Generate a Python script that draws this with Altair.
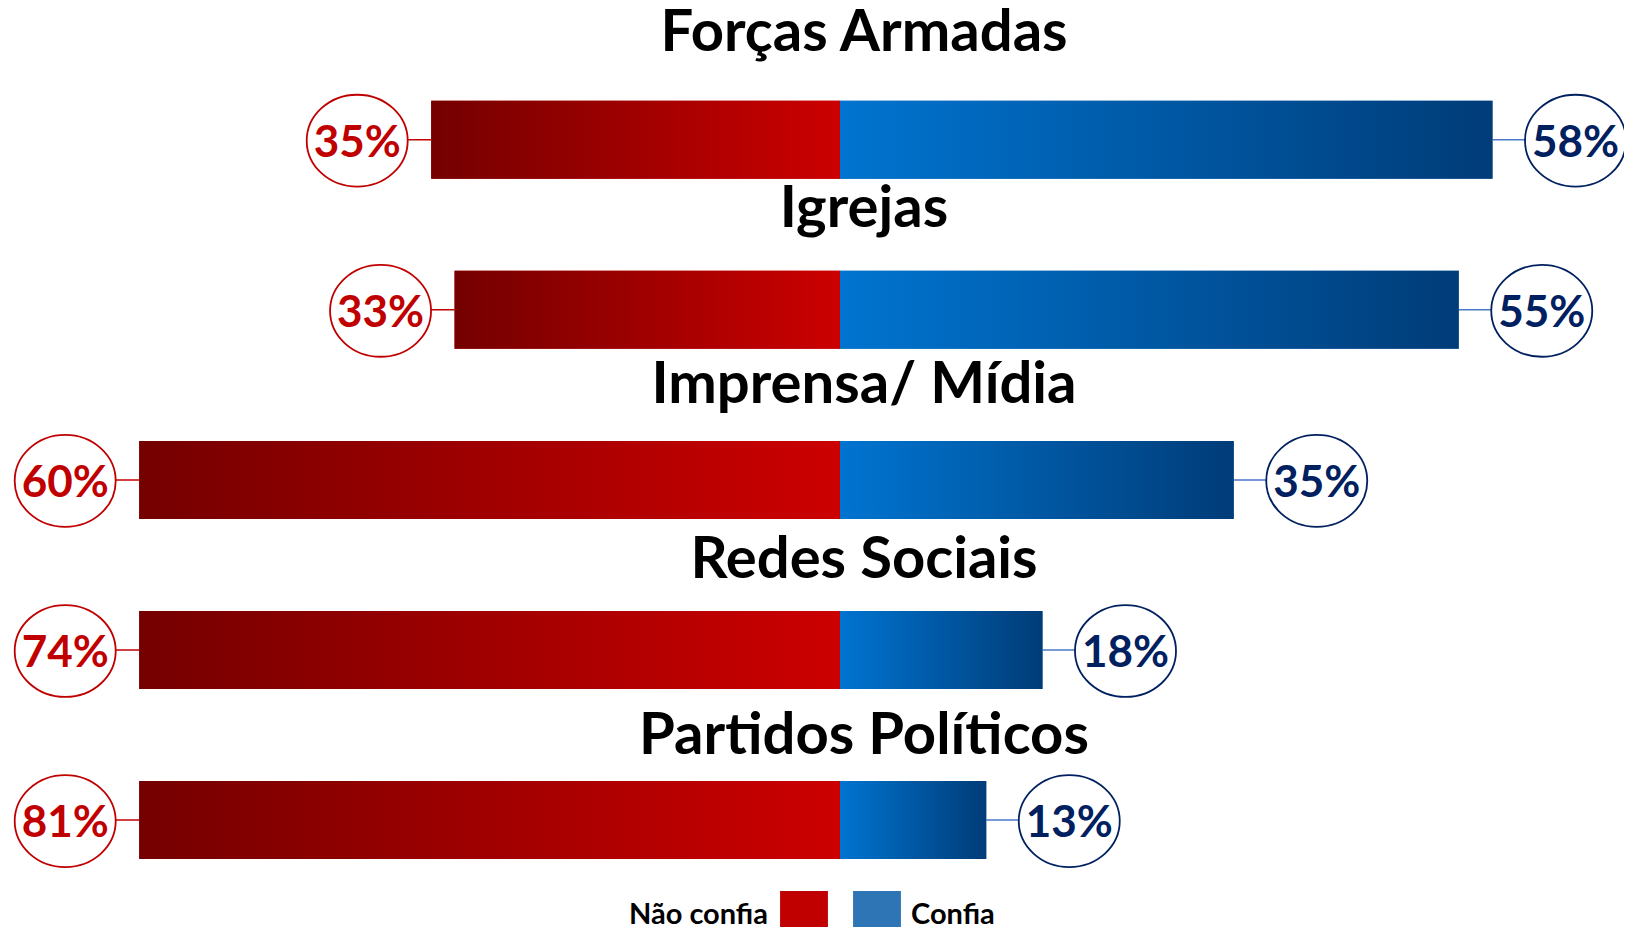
import altair as alt
import pandas as pd

# ---- data ----
categories = ["Forças Armadas", "Igrejas", "Imprensa/ Mídia", "Redes Sociais", "Partidos Políticos"]
nao_confia = [35, 33, 60, 74, 81]
confia = [58, 55, 35, 18, 13]
legend_labels = ["Não confia", "Confia"]

df = pd.DataFrame({"cat": categories, "nao": nao_confia, "sim": confia})
df["nao_neg"] = -df["nao"]
df["zero"] = 0
df["nao_lbl"] = df["nao"].astype(str) + "%"
df["sim_lbl"] = df["sim"].astype(str) + "%"
df["leg_nao"] = legend_labels[0]
df["leg_sim"] = legend_labels[1]

# ---- layout / style ----
W, H = 1616, 919
CENTER = 832
LEFT_PX, RIGHT_PX = 11.68, 11.25
ROW0, ROW_STEP = 131.7, 170.1
TITLE0, TITLE_STEP = 43.0, 175.8
TITLE_X = 856
BAR_H = 78
OFF_L, OFF_R = 74, 83
ELLIPSE = "M-1,0A1,0.91,0,1,1,1,0A1,0.91,0,1,1,-1,0Z"
CIRCLE_SIZE = 101 * 101
PCT_FONT = "Lato"
TITLE_FONT = "Lato"
RED, NAVY = "#c00000", "#002060"

grad_left = alt.Gradient(
    gradient="linear", x1=0, x2=1, y1=0, y2=0,
    stops=[alt.GradientStop(color="#740000", offset=0),
           alt.GradientStop(color="#cc0000", offset=1)])
grad_right = alt.Gradient(
    gradient="linear", x1=0, x2=1, y1=0, y2=0,
    stops=[alt.GradientStop(color="#0074d0", offset=0),
           alt.GradientStop(color="#003c78", offset=1)])

x_scale = alt.Scale(domain=[-60, 0, 60],
                    range=[CENTER - 60 * LEFT_PX, CENTER, CENTER + 60 * RIGHT_PX],
                    clamp=True, zero=False, nice=False)
bar_y = alt.Scale(type="point", domain=categories,
                  range=[ROW0, ROW0 + 4 * ROW_STEP], padding=0)
title_y = alt.Scale(type="point", domain=categories,
                    range=[TITLE0, TITLE0 + 4 * TITLE_STEP], padding=0)

xl = alt.X("nao_neg:Q", scale=x_scale, axis=None)
xr = alt.X("sim:Q", scale=x_scale, axis=None)
y_bar = alt.Y("cat:N", scale=bar_y, axis=None)

base = alt.Chart(df)

def legend(x, align, offset):
    return alt.Legend(title=None, orient="none", legendX=x, legendY=883,
                      symbolType="square", symbolSize=2290, symbolStrokeWidth=0,
                      symbolOpacity=1, labelFont=TITLE_FONT, labelFontSize=29,
                      labelFontWeight="bold", labelColor="black",
                      labelAlign=align, labelOffset={"expr": str(offset)},
                      padding=0, labelLimit=400)

leg_left = base.mark_bar(height=BAR_H).encode(
    x=xl, x2=alt.X2("zero:Q"), y=y_bar,
    color=alt.Color("leg_nao:N", scale=alt.Scale(domain=[legend_labels[0]], range=[RED]),
                    legend=legend(772, "right", -60)))
leg_right = base.mark_bar(height=BAR_H).encode(
    x=alt.X("zero:Q", scale=x_scale, axis=None), x2=alt.X2("sim:Q"), y=y_bar,
    color=alt.Color("leg_sim:N", scale=alt.Scale(domain=[legend_labels[1]], range=["#2e75b6"]),
                    legend=legend(845, "left", 10)))

bar_left = base.mark_bar(height=BAR_H, color=grad_left).encode(
    x=xl, x2=alt.X2("zero:Q"), y=y_bar)
bar_right = base.mark_bar(height=BAR_H, color=grad_right).encode(
    x=alt.X("zero:Q", scale=x_scale, axis=None), x2=alt.X2("sim:Q"), y=y_bar)

rule_left = base.mark_rule(color=RED, strokeWidth=1.5, x2Offset=-OFF_L).encode(
    x=xl, x2=alt.X2("nao_neg:Q"), y=y_bar)
rule_right = base.mark_rule(color="#4a78c8", strokeWidth=1.5, x2Offset=OFF_R).encode(
    x=xr, x2=alt.X2("sim:Q"), y=y_bar)

circ_left = base.mark_point(shape=ELLIPSE, size=CIRCLE_SIZE, filled=True, fill="white",
                            stroke=RED, strokeWidth=1.8, opacity=1, fillOpacity=1,
                            strokeOpacity=1, xOffset=-OFF_L, yOffset=1).encode(x=xl, y=y_bar)
circ_right = base.mark_point(shape=ELLIPSE, size=CIRCLE_SIZE, filled=True, fill="white",
                             stroke=NAVY, strokeWidth=1.8, opacity=1, fillOpacity=1,
                             strokeOpacity=1, xOffset=OFF_R, yOffset=1).encode(x=xr, y=y_bar)

txt_left = base.mark_text(font=PCT_FONT, fontSize=44, fontWeight="bold", color=RED,
                          xOffset=-OFF_L, dy=17, baseline="alphabetic", align="center").encode(
    x=xl, y=y_bar, text="nao_lbl:N")
txt_right = base.mark_text(font=PCT_FONT, fontSize=44, fontWeight="bold", color=NAVY,
                           xOffset=OFF_R, dy=17, baseline="alphabetic", align="center").encode(
    x=xr, y=y_bar, text="sim_lbl:N")

titles = base.mark_text(font=TITLE_FONT, fontSize=58, fontWeight="bold", color="black",
                        baseline="alphabetic", align="center").encode(
    x=alt.value(TITLE_X), y=alt.Y("cat:N", scale=title_y, axis=None), text="cat:N")

chart = alt.layer(
    rule_left, rule_right, leg_left, leg_right, bar_left, bar_right,
    circ_left, circ_right, txt_left, txt_right, titles
).resolve_scale(y="independent", color="independent").properties(
    width=W, height=H, padding=0, autosize=alt.AutoSizeParams(type="none")
).configure_view(stroke=None)

chart.save("out.html", embed_options={"renderer": "svg", "actions": False})
